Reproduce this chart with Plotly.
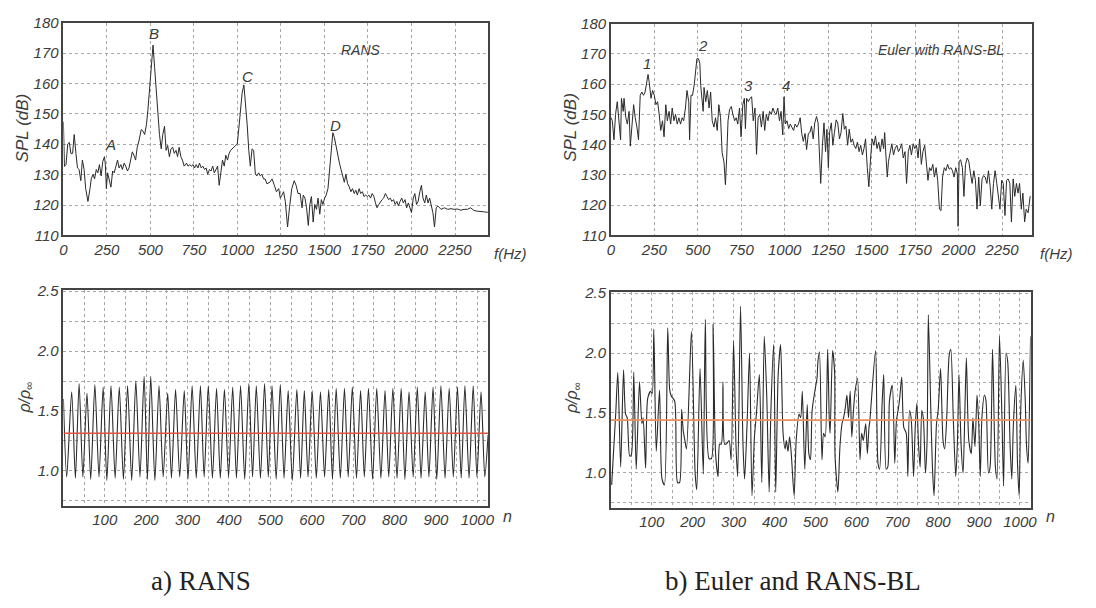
import plotly.graph_objects as go

# ---------------- SPL spectrum, RANS ----------------
rans_f = [
    0, 6, 15, 25, 34, 43, 53, 62, 72, 81,
    90, 100, 109, 119, 128, 141, 153, 160, 170, 179,
    189, 198, 207, 217, 226, 236, 241, 247, 254, 264,
    273, 283, 292, 302, 311, 320, 330, 339, 349, 358,
    368, 377, 386, 396, 405, 415, 424, 434, 447, 458,
    467, 477, 486, 496, 505, 515, 524, 533, 543, 552,
    562, 571, 581, 590, 599, 609, 618, 628, 637, 647,
    656, 665, 675, 684, 694, 707, 716, 726, 735, 745,
    754, 763, 773, 782, 792, 801, 811, 820, 829, 839,
    848, 858, 867, 877, 886, 895, 905, 914, 924, 933,
    943, 952, 961, 971, 980, 990, 999, 1008, 1018, 1027,
    1037, 1046, 1056, 1065, 1074, 1084, 1093, 1103, 1112, 1122,
    1131, 1140, 1150, 1159, 1169,
    1186, 1199, 1212, 1224, 1237, 1246, 1256, 1265, 1275, 1288,
    1299, 1312, 1326, 1337, 1348, 1360, 1371, 1378, 1388, 1397,
    1407, 1416, 1425, 1435, 1444, 1454, 1463, 1473, 1482, 1491,
    1501, 1510, 1520, 1529, 1539, 1548, 1557, 1567, 1576, 1586,
    1595, 1605, 1614, 1623, 1633, 1642, 1652, 1661, 1671, 1680,
    1689, 1699, 1708, 1718, 1727, 1737, 1746, 1755, 1765, 1774,
    1784, 1793, 1802, 1812, 1821, 1831, 1840, 1850, 1859, 1868,
    1878, 1887, 1897, 1906, 1916, 1925, 1934, 1944, 1953, 1963,
    1972, 1982, 1991, 2000, 2010, 2019, 2029, 2038, 2048, 2057,
    2066, 2076, 2085, 2095, 2104, 2114, 2123, 2132, 2142, 2151,
    2161, 2170, 2189, 2208, 2227, 2245, 2264, 2283, 2302, 2321,
    2340, 2359, 2377, 2396, 2415, 2438,
]
rans_spl = [
    147.4, 132.7, 133.3, 140.1, 140.6, 137.0, 137.0, 143.2, 137.0, 132.2,
    131.7, 128.0, 134.8, 131.7, 125.4, 121.2, 125.4, 128.6, 130.1, 128.6,
    131.7, 130.6, 133.3, 129.6, 134.3, 135.9, 133.3, 125.4, 130.6, 128.6,
    125.9, 131.2, 130.6, 132.8, 134.8, 132.2, 133.3, 131.7, 133.8, 132.8,
    131.2, 132.2, 134.8, 137.5, 136.4, 134.8, 139.0, 141.1, 144.8, 144.3,
    143.2, 146.4, 151.6, 157.9, 165.3, 172.6, 165.3, 156.9, 149.5, 143.2,
    138.5, 143.2, 145.9, 138.0, 139.6, 135.9, 138.5, 139.0, 137.0, 138.0,
    135.9, 139.0, 135.9, 134.8, 132.8, 133.8, 132.8, 133.3, 132.8, 133.3,
    132.2, 133.3, 132.2, 133.8, 132.2, 132.8, 131.7, 132.2, 130.1, 131.7,
    131.2, 132.8, 130.6, 131.7, 132.8, 126.5, 131.7, 134.8, 132.8, 136.4,
    134.8, 137.0, 138.0, 138.5, 139.0, 139.6, 140.1, 145.3, 151.6, 156.9,
    159.5, 153.7, 146.4, 138.0, 132.8, 138.5, 138.0, 130.1, 129.6, 130.6,
    129.6, 130.1, 128.6, 128.6, 127.0,
    127.5, 128.6, 126.5, 124.4, 125.4, 122.3, 123.3, 124.4, 121.2, 112.8,
    119.1, 125.4, 128.0, 126.5, 123.8, 123.8, 119.1, 123.3, 122.3, 119.1,
    113.3, 120.2, 122.8, 114.4, 120.2, 118.6, 122.3, 117.0, 121.8, 120.2,
    122.3, 123.3, 125.4, 131.7, 139.0, 143.8, 142.2, 139.0, 135.9, 133.8,
    131.7, 129.6, 127.5, 130.1, 127.0, 126.0, 124.4, 125.4, 123.8, 124.9,
    123.3, 125.4, 123.8, 124.4, 122.8, 123.3, 122.8, 123.3, 122.3, 123.8,
    122.8, 120.7, 119.1, 120.2, 121.2, 121.8, 122.3, 123.8, 122.8, 121.8,
    122.3, 121.2, 121.8, 120.2, 121.2, 119.7, 121.2, 122.3, 120.7, 121.8,
    119.1, 120.7, 119.1, 117.5, 122.3, 123.8, 120.2, 121.2, 124.4, 126.5,
    122.3, 120.7, 123.3, 120.7, 122.3, 120.2, 117.5, 112.8, 119.1, 119.7,
    119.1, 118.6, 119.1, 118.6, 118.8, 118.6, 118.7, 118.3, 118.6, 118.6,
    119.1, 118.2, 118.0, 118.0, 117.8, 117.6,
]

# ---------------- SPL spectrum, Euler with RANS-BL ----------------
euler_f = [
    0, 8, 18, 27, 37, 46, 56, 61, 71, 76,
    86, 95, 105, 112, 122, 131, 140, 150, 159, 169,
    178, 188, 197, 206, 214, 221, 231, 240, 250, 259,
    269, 278, 287, 297, 306, 316, 325, 335, 344, 353,
    363, 372, 382, 391, 401, 410, 419, 429, 438, 448,
    453, 461, 470, 480, 489, 495, 504, 512, 517, 523,
    531, 536, 546, 555, 565, 574, 583, 593, 602, 612,
    621, 631, 640, 651, 659, 666, 674, 683, 693, 702,
    712, 721, 730, 740, 749, 759, 768, 774, 781, 791,
    800, 810, 819, 829, 838, 847, 857, 866, 876, 885,
    894, 904, 913, 923, 932, 942, 951, 960, 970, 979,
    989, 996, 1004, 1013, 1023, 1032, 1041, 1051, 1060, 1070,
    1079, 1089, 1098, 1107, 1117, 1126, 1136,
    1145, 1154, 1164, 1173, 1183, 1192, 1198, 1207, 1217, 1226,
    1235, 1243, 1251, 1258, 1268, 1277, 1286, 1296, 1305, 1315,
    1324, 1334, 1343, 1352, 1362, 1371, 1381, 1390, 1399, 1409,
    1418, 1428, 1437, 1447, 1456, 1465, 1475, 1484, 1494, 1503,
    1513, 1522, 1531, 1541, 1550, 1560, 1569, 1575, 1582, 1590,
    1597, 1607, 1616, 1626, 1635, 1645, 1654, 1663, 1673, 1682,
    1692, 1701, 1711, 1720, 1729, 1739, 1748, 1758, 1767, 1776,
    1786, 1795, 1805, 1814, 1824, 1833, 1842, 1852, 1861, 1871,
    1880, 1890, 1899, 1908, 1918, 1927, 1937, 1946, 1956, 1965,
    1974, 1984, 1993, 1997, 2003, 2012, 2022, 2031, 2040, 2050,
    2059, 2069, 2078, 2088, 2097, 2106, 2116, 2125, 2135, 2144,
    2153, 2163, 2172, 2182, 2191, 2201, 2210, 2220, 2229, 2238,
    2248, 2257, 2267, 2276, 2285, 2295, 2304, 2314, 2323, 2333,
    2342, 2351, 2361, 2370, 2380, 2389, 2400, 2412,
]
euler_spl = [
    149.0, 148.0, 141.6, 150.0, 154.2, 146.8, 141.6, 155.3, 151.0, 155.3,
    148.9, 146.8, 151.0, 139.5, 147.9, 153.2, 148.9, 145.8, 141.6, 156.3,
    157.4, 156.3, 157.4, 160.5, 163.2, 160.5, 155.3, 157.9, 156.3, 153.2,
    154.2, 150.0, 144.7, 147.9, 142.6, 153.2, 147.9, 151.0, 146.8, 152.1,
    147.9, 150.0, 146.8, 148.9, 146.8, 148.9, 147.9, 152.1, 157.9, 154.2,
    141.6, 156.3, 156.3, 160.0, 166.3, 168.4, 168.4, 166.8, 159.5, 155.3,
    151.0, 158.9, 154.2, 157.9, 152.1, 157.4, 147.9, 145.8, 148.9, 144.7,
    153.2, 148.9, 137.4, 134.2, 126.8, 135.3, 147.9, 151.6, 152.6, 150.0,
    147.9, 148.9, 146.8, 152.1, 142.6, 153.2, 155.3, 145.3, 155.3, 154.2,
    155.3, 155.8, 147.9, 152.1, 136.8, 148.9, 150.0, 145.8, 151.0, 144.7,
    150.0, 147.9, 151.0, 150.0, 152.1, 150.5, 150.0, 152.1, 147.9, 151.0,
    143.2, 155.8, 146.8, 147.9, 145.3, 146.8, 145.8, 144.7, 146.8, 145.8,
    146.8, 148.9, 143.7, 141.1, 143.7, 138.4, 143.7,
    144.0, 146.1, 141.9, 147.2, 149.3, 147.2, 137.7, 127.2, 139.8, 147.2,
    137.7, 145.1, 132.4, 144.0, 147.2, 139.8, 144.0, 148.2, 147.2, 141.9,
    144.0, 150.3, 145.1, 146.1, 139.8, 145.1, 140.8, 141.9, 139.8, 138.7,
    140.8, 137.7, 139.8, 136.6, 138.7, 141.9, 132.4, 126.1, 135.6, 141.9,
    139.8, 142.9, 138.7, 140.8, 137.7, 141.9, 138.7, 144.0, 136.6, 129.3,
    134.5, 137.7, 140.3, 136.6, 138.7, 139.8, 137.7, 138.7, 140.3, 135.6,
    137.7, 127.2, 137.7, 139.8, 136.6, 140.3, 138.7, 139.8, 135.6, 141.9,
    133.5, 137.7, 139.8, 134.5, 128.2, 132.4, 131.4, 133.5, 129.3, 132.4,
    128.2, 118.7, 118.2, 129.3, 132.4, 131.4, 133.5, 131.9, 132.4, 131.4,
    129.3, 132.4, 130.3, 113.0, 134.5, 135.0, 132.4, 122.9, 133.5, 135.6,
    134.5, 130.3, 127.2, 131.4, 128.2, 118.7, 129.3, 119.8, 128.7, 129.8,
    129.3, 127.2, 131.4, 126.1, 118.7, 127.2, 131.4, 127.2, 122.9, 118.7,
    128.2, 127.2, 116.6, 128.2, 128.7, 127.2, 114.5, 128.7, 122.9, 127.2,
    124.0, 127.2, 118.7, 124.0, 114.5, 118.7, 117.5, 123.0,
]

# ---------------- density history, RANS ----------------
rans_n = [
    0, 8, 20, 29, 38, 47, 57, 66, 76, 86,
    96, 105, 115, 125, 135, 145, 155, 165, 175, 185,
    195, 203, 211, 221, 231, 241, 252, 261, 271, 281,
    292, 301, 311, 321, 331, 340, 350, 360, 370, 379,
    389, 399, 409, 418, 428, 438, 448, 457, 466, 476,
    486, 495, 504, 514, 524, 533, 543, 553, 564, 573,
    582, 591, 601, 611, 621, 631, 641, 650, 659, 669,
    679, 688, 698, 708, 718, 727, 737, 747, 757, 767,
    777, 786, 796, 806, 816, 825, 835, 845, 855, 864,
    874, 883, 893, 902, 912, 922, 932, 942, 952, 961,
    970, 980, 990, 999, 1009, 1018, 1026,
]
rans_rho = [
    1.60, 0.95, 1.66, 0.94, 1.73, 0.95, 1.65, 0.93, 1.72, 0.95,
    1.70, 0.92, 1.71, 0.94, 1.70, 0.93, 1.71, 0.92, 1.75, 0.95,
    1.79, 0.93, 1.79, 0.92, 1.71, 0.95, 1.65, 0.94, 1.68, 0.95,
    1.67, 0.93, 1.71, 0.94, 1.71, 0.95, 1.71, 0.94, 1.69, 0.94,
    1.68, 0.95, 1.70, 0.94, 1.71, 0.93, 1.73, 0.95, 1.71, 0.94,
    1.73, 0.95, 1.71, 0.93, 1.72, 0.94, 1.67, 0.92, 1.68, 0.94,
    1.67, 0.95, 1.67, 0.94, 1.66, 0.95, 1.68, 0.93, 1.69, 0.94,
    1.69, 0.95, 1.70, 0.94, 1.67, 0.95, 1.69, 0.93, 1.69, 0.94,
    1.67, 0.95, 1.69, 0.94, 1.69, 0.93, 1.66, 0.95, 1.70, 0.94,
    1.66, 0.95, 1.70, 0.93, 1.71, 0.94, 1.69, 0.95, 1.70, 0.94,
    1.71, 0.94, 1.71, 0.95, 1.66, 0.95, 1.30,
]
rans_mean = 1.315

# ---------------- density history, Euler with RANS-BL ----------------
euler_n = [
    2, 12, 17, 24, 31, 36, 40, 46, 50, 56,
    62, 70, 76, 79, 85, 90, 97, 101, 105, 111,
    119, 125, 131, 139, 144, 148, 156, 163, 168, 173,
    177, 181, 185, 197, 206, 210, 218, 226, 231, 240,
    246, 250, 256, 262, 266, 270, 274, 278, 282, 289,
    294, 300, 306, 310, 317, 323, 327, 333, 339, 345,
    351, 356, 363, 369, 375, 381, 387, 391, 398, 403,
    409, 415, 421, 426, 429, 433, 437, 441, 448, 453,
    460, 464, 468, 474, 480, 484, 488, 492, 500, 504,
    506, 510, 516, 520, 524, 530, 534, 536, 542, 547,
    548, 555, 560, 565, 569, 573, 577, 581, 585, 589,
    593, 597, 603, 609, 613, 617, 623, 627, 631, 633,
    647, 653, 657, 663, 667, 673, 677, 681, 688, 694,
    698, 703, 706, 711, 716, 722, 726, 730, 734, 740,
    744, 748, 752, 756, 760, 764, 769, 773, 776, 782,
    786, 790, 796, 800, 806, 812, 816, 821, 827, 831,
    837, 843, 847, 851, 856, 861, 865, 869, 875, 881,
    885, 890, 895, 899, 903, 907, 913, 917, 923, 927,
    933, 940, 944, 950, 956, 960, 966, 970, 976, 980,
    984, 990, 994, 998, 1002, 1008, 1013, 1016, 1020, 1024,
    1026,
]
euler_rho = [
    0.90, 1.50, 1.84, 1.05, 1.86, 1.49, 1.46, 1.14, 1.15, 1.84,
    1.03, 1.76, 1.41, 1.46, 1.04, 1.62, 1.68, 1.66, 2.20, 1.18,
    1.69, 0.95, 0.90, 2.21, 1.69, 1.64, 1.60, 0.92, 0.92, 1.53,
    1.35, 1.27, 1.20, 2.18, 1.00, 0.86, 1.87, 0.99, 2.28, 1.12,
    1.12, 2.24, 1.16, 0.97, 1.24, 1.24, 1.76, 1.24, 1.24, 1.27,
    1.11, 2.10, 1.22, 0.97, 2.39, 1.24, 0.95, 1.41, 2.00, 0.81,
    1.30, 1.50, 1.82, 0.92, 2.14, 1.65, 0.84, 1.49, 2.07, 0.84,
    1.82, 2.07, 1.33, 1.20, 1.27, 1.18, 1.30, 1.16, 0.81, 1.27,
    1.49, 1.46, 1.68, 1.03, 1.57, 1.16, 1.11, 1.52, 1.71, 1.79,
    1.92, 2.01, 1.11, 1.33, 1.30, 2.03, 1.43, 1.33, 2.02, 1.84,
    1.14, 0.84, 1.22, 1.41, 1.46, 1.54, 1.65, 1.46, 1.68, 1.30,
    1.52, 1.68, 1.79, 1.11, 1.33, 1.27, 1.41, 1.16, 1.38, 1.43,
    2.02, 1.08, 1.03, 1.57, 1.82, 1.03, 1.05, 1.60, 1.73, 1.08,
    1.43, 1.54, 1.62, 1.80, 1.38, 1.33, 0.97, 1.52, 1.46, 0.97,
    1.38, 1.58, 1.24, 1.05, 1.52, 1.45, 1.00, 1.27, 2.32, 1.54,
    1.05, 0.81, 1.41, 1.52, 1.87, 1.27, 1.20, 1.46, 1.98, 2.03,
    1.46, 0.97, 1.24, 1.82, 1.24, 1.00, 1.46, 1.96, 1.27, 1.16,
    1.46, 1.22, 1.65, 1.43, 0.97, 1.46, 1.65, 1.60, 1.00, 1.05,
    2.03, 1.05, 0.95, 2.14, 1.46, 0.89, 2.00, 1.93, 1.22, 0.95,
    1.41, 1.73, 1.08, 0.81, 1.54, 1.94, 1.60, 1.23, 1.08, 1.73,
    2.14,
]
euler_mean = 1.44

# peak labels on the spectra
rans_peak_labels = ["A", "B", "C", "D"]
rans_peak_f = [268, 522, 1056, 1561]
rans_peak_spl = [139.8, 176.3, 162.3, 146.2]
euler_peak_labels = ["1", "2", "3", "4"]
euler_peak_f = [208, 532, 791, 1007]
euler_peak_spl = [166.8, 172.6, 159.5, 159.5]

spl_ticks = [110, 120, 130, 140, 150, 160, 170, 180]
f_ticks = [0, 250, 500, 750, 1000, 1250, 1500, 1750, 2000, 2250]
rho_ticks = [1.0, 1.5, 2.0, 2.5]
n_ticks = [100, 200, 300, 400, 500, 600, 700, 800, 900, 1000]


def italic(vals, fmt="{}"):
    return ["<i>" + fmt.format(v) + "</i>" for v in vals]


W, H = 1096, 608
INK = "#2a2a2a"
TXT = "#3c3c3c"
GRID = "#a8a8a8"
SANS = "Liberation Sans, Arial, sans-serif"
SERIF = "Liberation Serif, Times New Roman, serif"

fig = go.Figure()
line_style = dict(color=INK, width=1)
wave_style = dict(color=INK, width=1.1, shape="spline", smoothing=0.7)

fig.add_trace(go.Scatter(x=rans_f, y=rans_spl, mode="lines", line=line_style,
                         xaxis="x", yaxis="y", showlegend=False))
fig.add_trace(go.Scatter(x=euler_f, y=euler_spl, mode="lines", line=line_style,
                         xaxis="x2", yaxis="y2", showlegend=False))
fig.add_trace(go.Scatter(x=rans_n, y=rans_rho, mode="lines", line=wave_style,
                         xaxis="x3", yaxis="y3", showlegend=False))
fig.add_trace(go.Scatter(x=euler_n, y=euler_rho, mode="lines", line=wave_style,
                         xaxis="x4", yaxis="y4", showlegend=False))
# mean density lines
fig.add_trace(go.Scatter(x=[0, 1026], y=[rans_mean, rans_mean], mode="lines",
                         line=dict(color="#e2553f", width=1.6),
                         xaxis="x3", yaxis="y3", showlegend=False))
fig.add_trace(go.Scatter(x=[0, 1026], y=[euler_mean, euler_mean], mode="lines",
                         line=dict(color="#e9905c", width=1.6),
                         xaxis="x4", yaxis="y4", showlegend=False))


def px_x(a, b):
    return [a / W, b / W]


def px_y(top, bottom):
    return [1 - bottom / H, 1 - top / H]


tick_font = dict(family=SANS, size=15, color=TXT)
frame = dict(showline=True, linecolor="#444", linewidth=1.5, mirror=True,
             ticks="", zeroline=False, tickfont=tick_font,
             gridcolor=GRID, griddash="dot", gridwidth=1)

spec_x = dict(frame, range=[0, 2440], tickvals=f_ticks, ticktext=italic(f_ticks),
              showgrid=True)
spec_y = dict(frame, range=[110, 180], tickvals=spl_ticks, ticktext=italic(spl_ticks),
              showgrid=True)
hist_x = dict(frame, range=[0, 1026], tickvals=n_ticks, ticktext=italic(n_ticks),
              showgrid=True,
              minor=dict(dtick=50, tick0=0, showgrid=True, gridcolor=GRID,
                         griddash="dot", gridwidth=1, ticks=""))
hist_y = dict(frame, range=[0.71, 2.51], tickvals=rho_ticks,
              ticktext=italic(rho_ticks, "{:.1f}"), showgrid=True,
              minor=dict(dtick=0.25, tick0=0, showgrid=True, gridcolor=GRID,
                         griddash="dot", gridwidth=1, ticks=""))

fig.update_layout(
    width=W, height=H,
    margin=dict(l=0, r=0, t=0, b=0),
    paper_bgcolor="white", plot_bgcolor="white",
    xaxis=dict(spec_x, domain=px_x(60, 489), anchor="y"),
    yaxis=dict(spec_y, domain=px_y(14, 233), anchor="x"),
    xaxis2=dict(spec_x, domain=px_x(613, 1038), anchor="y2", range=[0, 2420]),
    yaxis2=dict(spec_y, domain=px_y(15, 233), anchor="x2"),
    xaxis3=dict(hist_x, domain=px_x(60, 489), anchor="y3"),
    yaxis3=dict(hist_y, domain=px_y(289, 511), anchor="x3"),
    xaxis4=dict(hist_x, domain=px_x(613, 1037), anchor="y4"),
    yaxis4=dict(hist_y, domain=px_y(291, 513), anchor="x4"),
)

ann = []
lab_font = dict(family=SANS, size=15, color=TXT)
for t, fx, fy in zip(rans_peak_labels, rans_peak_f, rans_peak_spl):
    ann.append(dict(x=fx, y=fy, xref="x", yref="y", text="<i>" + t + "</i>",
                    showarrow=False, font=lab_font))
for t, fx, fy in zip(euler_peak_labels, euler_peak_f, euler_peak_spl):
    ann.append(dict(x=fx, y=fy, xref="x2", yref="y2", text="<i>" + t + "</i>",
                    showarrow=False, font=lab_font))
ann.append(dict(x=1708, y=171, xref="x", yref="y", text="<i>RANS</i>", showarrow=False,
                font=dict(family=SANS, size=14, color=TXT)))
ann.append(dict(x=1899, y=171.4, xref="x2", yref="y2", text="<i>Euler with RANS-BL</i>",
                showarrow=False, font=dict(family=SANS, size=14, color=TXT)))


def paper_text(text, x, y, size, family=SANS, angle=0, color=TXT):
    return dict(x=x / W, y=1 - y / H, xref="paper", yref="paper", text=text,
                showarrow=False, textangle=angle,
                font=dict(family=family, size=size, color=color),
                xanchor="center", yanchor="middle")


ann.append(paper_text("<i>SPL (dB)</i>", 19, 122, 17, angle=-90))
ann.append(paper_text("<i>SPL (dB)</i>", 572, 122, 17, angle=-90))
ann.append(paper_text("<i>ρ/ρ<sub>∞</sub></i>", 22, 400, 16, angle=-90))
ann.append(paper_text("<i>ρ/ρ<sub>∞</sub></i>", 575, 400, 16, angle=-90))
ann.append(paper_text("<i>f(Hz)</i>", 512, 252, 15))
ann.append(paper_text("<i>f(Hz)</i>", 1063, 252, 15))
ann.append(paper_text("<i>n</i>", 509, 522, 16))
ann.append(paper_text("<i>n</i>", 1057, 522, 16))
ann.append(paper_text("a) RANS", 199, 588, 27, family=SERIF, color="#222"))
ann.append(paper_text("b) Euler and RANS-BL", 797, 588, 27, family=SERIF, color="#222"))

fig.update_layout(annotations=ann)

fig.write_html("out.html")
